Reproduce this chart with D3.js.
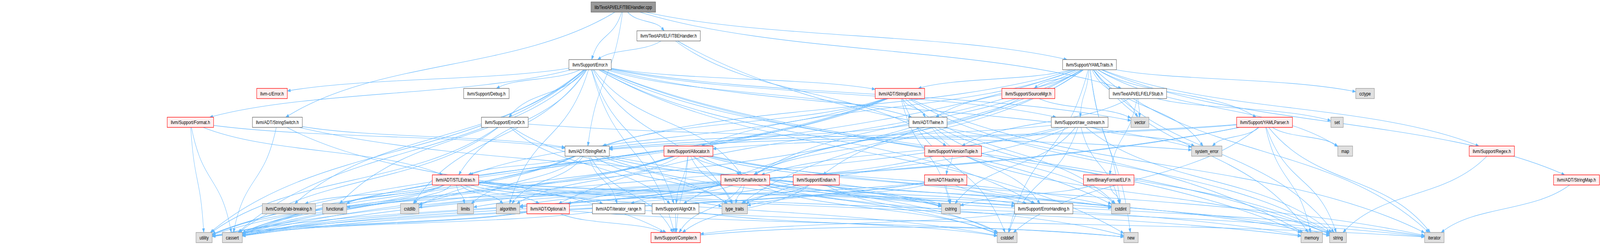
<!DOCTYPE html>
<html><head><meta charset="utf-8">
<script src="https://cdn.jsdelivr.net/npm/d3@7"></script>
<style>html,body{margin:0;padding:0;background:#fff;overflow:hidden;width:100%;height:100%}svg{display:block}</style>
</head><body>
<script>
// ---------------- DATA ----------------
const rootFile = ["lib/TextAPI/ELF/TBEHandler.cpp"];
const completeHeaders = ["llvm/TextAPI/ELF/TBEHandler.h","llvm/Support/Error.h","llvm/Support/YAMLTraits.h",
  "llvm/Support/Debug.h","llvm/TextAPI/ELF/ELFStub.h","llvm/ADT/StringSwitch.h","llvm/Support/ErrorOr.h",
  "llvm/ADT/Twine.h","llvm/Support/raw_ostream.h","llvm/ADT/StringRef.h","llvm/ADT/iterator_range.h",
  "llvm/Support/AlignOf.h","llvm/Support/ErrorHandling.h"];
const truncatedHeaders = ["llvm-c/Error.h","llvm/ADT/StringExtras.h","llvm/Support/SourceMgr.h","llvm/Support/Format.h",
  "llvm/Support/YAMLParser.h","llvm/Support/Allocator.h","llvm/Support/VersionTuple.h","llvm/Support/Regex.h",
  "llvm/ADT/STLExtras.h","llvm/ADT/SmallVector.h","llvm/Support/Endian.h","llvm/ADT/Hashing.h",
  "llvm/BinaryFormat/ELF.h","llvm/ADT/StringMap.h","llvm/ADT/Optional.h","llvm/Support/Compiler.h"];
const systemHeaders = ["cctype","vector","set","system_error","map","llvm/Config/abi-breaking.h","functional",
  "cstdlib","limits","algorithm","type_traits","cstring","cstdint","utility","cassert","cstddef","new",
  "memory","string","iterator"];

const includesCpp = ["llvm/TextAPI/ELF/TBEHandler.h","llvm/ADT/StringSwitch.h","llvm/ADT/StringRef.h","llvm/Support/Error.h","llvm/Support/YAMLTraits.h","llvm/TextAPI/ELF/ELFStub.h"];
const includesTBEHandlerH = ["llvm/Support/Error.h","llvm/Support/VersionTuple.h","memory"];
const includesError = ["llvm-c/Error.h","llvm/ADT/STLExtras.h","llvm/ADT/SmallVector.h","llvm/ADT/StringExtras.h","llvm/ADT/Twine.h",
  "llvm/Config/abi-breaking.h","llvm/Support/AlignOf.h","llvm/Support/Compiler.h","llvm/Support/Debug.h","llvm/Support/ErrorHandling.h",
  "llvm/Support/ErrorOr.h","llvm/Support/Format.h","llvm/Support/raw_ostream.h","algorithm","cassert","cstdint","cstdlib","functional",
  "memory","new","string","system_error","type_traits","utility","vector"];
const includesYAMLTraits = ["llvm/ADT/Optional.h","llvm/ADT/SmallVector.h","llvm/ADT/StringExtras.h","llvm/ADT/StringMap.h","llvm/ADT/StringRef.h",
  "llvm/ADT/Twine.h","llvm/Support/AlignOf.h","llvm/Support/Allocator.h","llvm/Support/Endian.h","llvm/Support/Regex.h",
  "llvm/Support/SourceMgr.h","llvm/Support/YAMLParser.h","llvm/Support/raw_ostream.h","cassert","cctype","cstddef","cstdint",
  "iterator","map","memory","new","string","system_error","type_traits","vector"];
const includesELFStub = ["llvm/BinaryFormat/ELF.h","llvm/Support/VersionTuple.h","vector","set"];
const includesStringExtras = ["llvm/ADT/STLExtras.h","llvm/ADT/StringRef.h","llvm/ADT/Twine.h","cassert","cstddef","cstdint","cstdlib","cstring","iterator","string","utility"];
const includesSourceMgr = ["llvm/ADT/SmallVector.h","vector"];
const includesFormat = ["llvm/ADT/STLExtras.h","llvm/ADT/StringRef.h","cassert","utility"];
const includesStringSwitch = ["llvm/ADT/StringRef.h","llvm/Support/Compiler.h","cassert","cstring"];
const includesErrorOr = ["llvm/Support/AlignOf.h","cassert","system_error","type_traits","utility"];
const includesTwine = ["llvm/ADT/SmallVector.h","llvm/ADT/StringRef.h","llvm/Support/ErrorHandling.h","cassert","cstdint","string"];
const includesRawOstream = ["llvm/ADT/SmallVector.h","llvm/ADT/StringRef.h","cassert","cstddef","cstdint","cstring","string","system_error","type_traits"];
const includesYAMLParser = ["llvm/ADT/StringRef.h","llvm/Support/Allocator.h","cassert","cstddef","iterator","map","memory","string","system_error","utility"];
const includesStringRef = ["llvm/ADT/STLExtras.h","llvm/ADT/iterator_range.h","llvm/Support/Compiler.h","algorithm","cassert","cstddef","cstring","limits","string","type_traits","utility"];
const includesAllocator = ["llvm/ADT/SmallVector.h","llvm/Support/AlignOf.h","llvm/Support/Compiler.h","llvm/Support/ErrorHandling.h","algorithm","cassert","cstddef","cstdint","cstdlib","iterator","type_traits","utility"];
const includesVersionTuple = ["llvm/ADT/Hashing.h","llvm/ADT/Optional.h","string"];
const includesRegex = ["string"];
const includesSTLExtras = ["llvm/ADT/Optional.h","llvm/ADT/iterator_range.h","llvm/Config/abi-breaking.h","llvm/Support/ErrorHandling.h","algorithm","cassert","cstddef","cstdint","cstdlib","functional","iterator","limits","memory","type_traits","utility"];
const includesSmallVector = ["llvm/ADT/iterator_range.h","llvm/Support/Compiler.h","llvm/Support/ErrorHandling.h","type_traits","algorithm","cassert","cstddef","cstdlib","cstring","functional","iterator","limits","memory","new","utility"];
const includesEndian = ["llvm/Support/Compiler.h","cassert","cstddef","cstdint","cstring","type_traits"];
const includesHashing = ["llvm/Support/ErrorHandling.h","type_traits","algorithm","cassert","cstring","string","utility"];
const includesELF = ["cstdint","cstring"];
const includesStringMap = ["iterator"];
const includesOptional = ["llvm/Support/Compiler.h","cassert","new","utility"];
const includesIteratorRange = ["utility","iterator"];
const includesAlignOf = ["llvm/Support/Compiler.h","cstddef"];
const includesErrorHandling = ["llvm/Support/Compiler.h"];
const includesCompiler = ["new"];

// ---------------- LAYOUT (not data) ----------------
const W = 5206, H = 626;
const rankOf = {
 "lib/TextAPI/ELF/TBEHandler.cpp":0,
 "llvm/TextAPI/ELF/TBEHandler.h":1,
 "llvm/Support/Error.h":2,"llvm/Support/YAMLTraits.h":2,
 "llvm-c/Error.h":3,"llvm/Support/Debug.h":3,"llvm/ADT/StringExtras.h":3,"llvm/Support/SourceMgr.h":3,"llvm/TextAPI/ELF/ELFStub.h":3,"cctype":3,
 "llvm/Support/Format.h":4,"llvm/ADT/StringSwitch.h":4,"llvm/Support/ErrorOr.h":4,"llvm/ADT/Twine.h":4,"llvm/Support/raw_ostream.h":4,"vector":4,"llvm/Support/YAMLParser.h":4,"set":4,
 "llvm/ADT/StringRef.h":5,"llvm/Support/Allocator.h":5,"llvm/Support/VersionTuple.h":5,"system_error":5,"map":5,"llvm/Support/Regex.h":5,
 "llvm/ADT/STLExtras.h":6,"llvm/ADT/SmallVector.h":6,"llvm/Support/Endian.h":6,"llvm/ADT/Hashing.h":6,"llvm/BinaryFormat/ELF.h":6,"llvm/ADT/StringMap.h":6,
 "llvm/Config/abi-breaking.h":7,"functional":7,"cstdlib":7,"limits":7,"algorithm":7,"llvm/ADT/Optional.h":7,"llvm/ADT/iterator_range.h":7,"llvm/Support/AlignOf.h":7,"type_traits":7,"cstring":7,"llvm/Support/ErrorHandling.h":7,"cstdint":7,
 "utility":8,"cassert":8,"llvm/Support/Compiler.h":8,"cstddef":8,"new":8,"memory":8,"string":8,"iterator":8
};
const centerX = {
 "lib/TextAPI/ELF/TBEHandler.cpp":2028,"llvm/TextAPI/ELF/TBEHandler.h":2175.5,
 "llvm/Support/Error.h":1920,"llvm/Support/YAMLTraits.h":3545,
 "llvm-c/Error.h":885,"llvm/Support/Debug.h":1582.5,"llvm/ADT/StringExtras.h":2928,"llvm/Support/SourceMgr.h":3346,"llvm/TextAPI/ELF/ELFStub.h":3702.5,"cctype":4441.5,
 "llvm/Support/Format.h":619.5,"llvm/ADT/StringSwitch.h":902.5,"llvm/Support/ErrorOr.h":1642.5,"llvm/ADT/Twine.h":3019.5,"llvm/Support/raw_ostream.h":3513,"vector":3709,"llvm/Support/YAMLParser.h":4114.5,"set":4350.5,
 "llvm/ADT/StringRef.h":1910.5,"llvm/Support/Allocator.h":2240,"llvm/Support/VersionTuple.h":3101,"system_error":3926.5,"map":4377,"llvm/Support/Regex.h":4854,
 "llvm/ADT/STLExtras.h":1482,"llvm/ADT/SmallVector.h":2425,"llvm/Support/Endian.h":2656,"llvm/ADT/Hashing.h":3077,"llvm/BinaryFormat/ELF.h":3607.5,"llvm/ADT/StringMap.h":5129.5,
 "llvm/Config/abi-breaking.h":940,"functional":1089,"cstdlib":1333,"limits":1514.5,"algorithm":1653,"llvm/ADT/Optional.h":1783.5,"llvm/ADT/iterator_range.h":2013,"llvm/Support/AlignOf.h":2198,"type_traits":2390.5,"cstring":3094,"llvm/Support/ErrorHandling.h":3396,"cstdint":3646.5,
 "utility":664,"cassert":756,"llvm/Support/Compiler.h":2198.5,"cstddef":3277,"new":3680,"memory":4268,"string":4353.5,"iterator":4667
};

const includeLists = [
 ["lib/TextAPI/ELF/TBEHandler.cpp", includesCpp],
 ["llvm/TextAPI/ELF/TBEHandler.h", includesTBEHandlerH],
 ["llvm/Support/Error.h", includesError],
 ["llvm/Support/YAMLTraits.h", includesYAMLTraits],
 ["llvm/TextAPI/ELF/ELFStub.h", includesELFStub],
 ["llvm/ADT/StringExtras.h", includesStringExtras],
 ["llvm/Support/SourceMgr.h", includesSourceMgr],
 ["llvm/Support/Format.h", includesFormat],
 ["llvm/ADT/StringSwitch.h", includesStringSwitch],
 ["llvm/Support/ErrorOr.h", includesErrorOr],
 ["llvm/ADT/Twine.h", includesTwine],
 ["llvm/Support/raw_ostream.h", includesRawOstream],
 ["llvm/Support/YAMLParser.h", includesYAMLParser],
 ["llvm/ADT/StringRef.h", includesStringRef],
 ["llvm/Support/Allocator.h", includesAllocator],
 ["llvm/Support/VersionTuple.h", includesVersionTuple],
 ["llvm/Support/Regex.h", includesRegex],
 ["llvm/ADT/STLExtras.h", includesSTLExtras],
 ["llvm/ADT/SmallVector.h", includesSmallVector],
 ["llvm/Support/Endian.h", includesEndian],
 ["llvm/ADT/Hashing.h", includesHashing],
 ["llvm/BinaryFormat/ELF.h", includesELF],
 ["llvm/ADT/StringMap.h", includesStringMap],
 ["llvm/ADT/Optional.h", includesOptional],
 ["llvm/ADT/iterator_range.h", includesIteratorRange],
 ["llvm/Support/AlignOf.h", includesAlignOf],
 ["llvm/Support/ErrorHandling.h", includesErrorHandling],
 ["llvm/Support/Compiler.h", includesCompiler]
];

const styles = {
  root:  {fill:"#999999", stroke:"#666666"},
  full:  {fill:"#ffffff", stroke:"#666666"},
  trunc: {fill:"#fff0f0", stroke:"#ff0000"},
  sys:   {fill:"#e0e0e0", stroke:"#999999"}
};
const EDGE = "#63b8ff";
const FONT = "'Liberation Sans', Arial, Helvetica, sans-serif";

const nodes = [];
rootFile.forEach(n => nodes.push({id:n, kind:"root"}));
completeHeaders.forEach(n => nodes.push({id:n, kind:"full"}));
truncatedHeaders.forEach(n => nodes.push({id:n, kind:"trunc"}));
systemHeaders.forEach(n => nodes.push({id:n, kind:"sys"}));

const x = d3.scaleLinear().domain([0, W]).range([0, W]);
const y = d3.scalePoint().domain(d3.range(9)).range([18, 607]);

const vw = window.innerWidth || W, vh = window.innerHeight || H;
const svg = d3.select("body").append("svg")
  .attr("width", vw).attr("height", vh)
  .attr("viewBox", `0 0 ${W} ${H}`)
  .attr("preserveAspectRatio", "none")
  .style("background", "#fff");

// measure text
const meas = svg.append("text").attr("font-family", FONT).attr("font-size", 13);
nodes.forEach(n => {
  meas.text(n.id);
  n.tw = meas.node().getComputedTextLength();
  n.w = n.tw + 23; n.h = 26;
  n.x = x(centerX[n.id]); n.y = y(rankOf[n.id]);
});
meas.remove();
const byId = new Map(nodes.map(n => [n.id, n]));

const edges = [];
includeLists.forEach(([src, list]) => list.forEach(dst => edges.push({s: byId.get(src), t: byId.get(dst)})));

function clip(n, px, py) {
  const dx = px - n.x, dy = py - n.y;
  const hw = n.w/2, hh = n.h/2;
  if (dx === 0 && dy === 0) return [n.x, n.y + hh];
  const sx = dx !== 0 ? hw/Math.abs(dx) : Infinity;
  const sy = dy !== 0 ? hh/Math.abs(dy) : Infinity;
  const s = Math.min(sx, sy);
  return [n.x + dx*s, n.y + dy*s];
}

const gE = svg.append("g");
edges.forEach(e => {
  const s = e.s, t = e.t;
  const dy = t.y - s.y, dx = t.x - s.x;
  let c1, c2;
  if (dy > 0) {
    c1 = [s.x + dx*0.3, s.y + dy*0.55];
    c2 = [t.x - dx*0.3, t.y - dy*0.55];
  } else {
    c1 = [s.x + dx*0.3, s.y - 34];
    c2 = [t.x - dx*0.3, t.y - 34];
  }
  const p0 = clip(s, c1[0], c1[1]);
  const tip = clip(t, c2[0], c2[1]);
  let ux = tip[0] - c2[0], uy = tip[1] - c2[1];
  const L = Math.hypot(ux, uy) || 1; ux /= L; uy /= L;
  const base = [tip[0] - ux*10, tip[1] - uy*10];
  const p = d3.path();
  p.moveTo(p0[0], p0[1]);
  p.bezierCurveTo(c1[0], c1[1], c2[0], c2[1], base[0], base[1]);
  gE.append("path").attr("d", p.toString()).attr("fill", "none")
    .attr("stroke", EDGE).attr("stroke-width", 1.1);
  const px = -uy*3.6, py = ux*3.6;
  gE.append("path")
    .attr("d", `M${tip[0]},${tip[1]}L${base[0]+px},${base[1]+py}L${base[0]-px},${base[1]-py}Z`)
    .attr("fill", EDGE).attr("stroke", EDGE).attr("stroke-width", 1);
});

const gN = svg.append("g").selectAll("g").data(nodes).join("g")
  .attr("transform", d => `translate(${d.x},${d.y})`);
gN.append("rect")
  .attr("x", d => -d.w/2).attr("y", d => -d.h/2)
  .attr("width", d => d.w).attr("height", d => d.h)
  .attr("fill", d => styles[d.kind].fill)
  .attr("stroke", d => styles[d.kind].stroke)
  .attr("stroke-width", 1.3);
gN.append("text")
  .attr("text-anchor", "middle").attr("dy", "0.36em")
  .attr("font-family", FONT).attr("font-size", 13).attr("fill", "#000")
  .text(d => d.id);
</script>
</body></html>
